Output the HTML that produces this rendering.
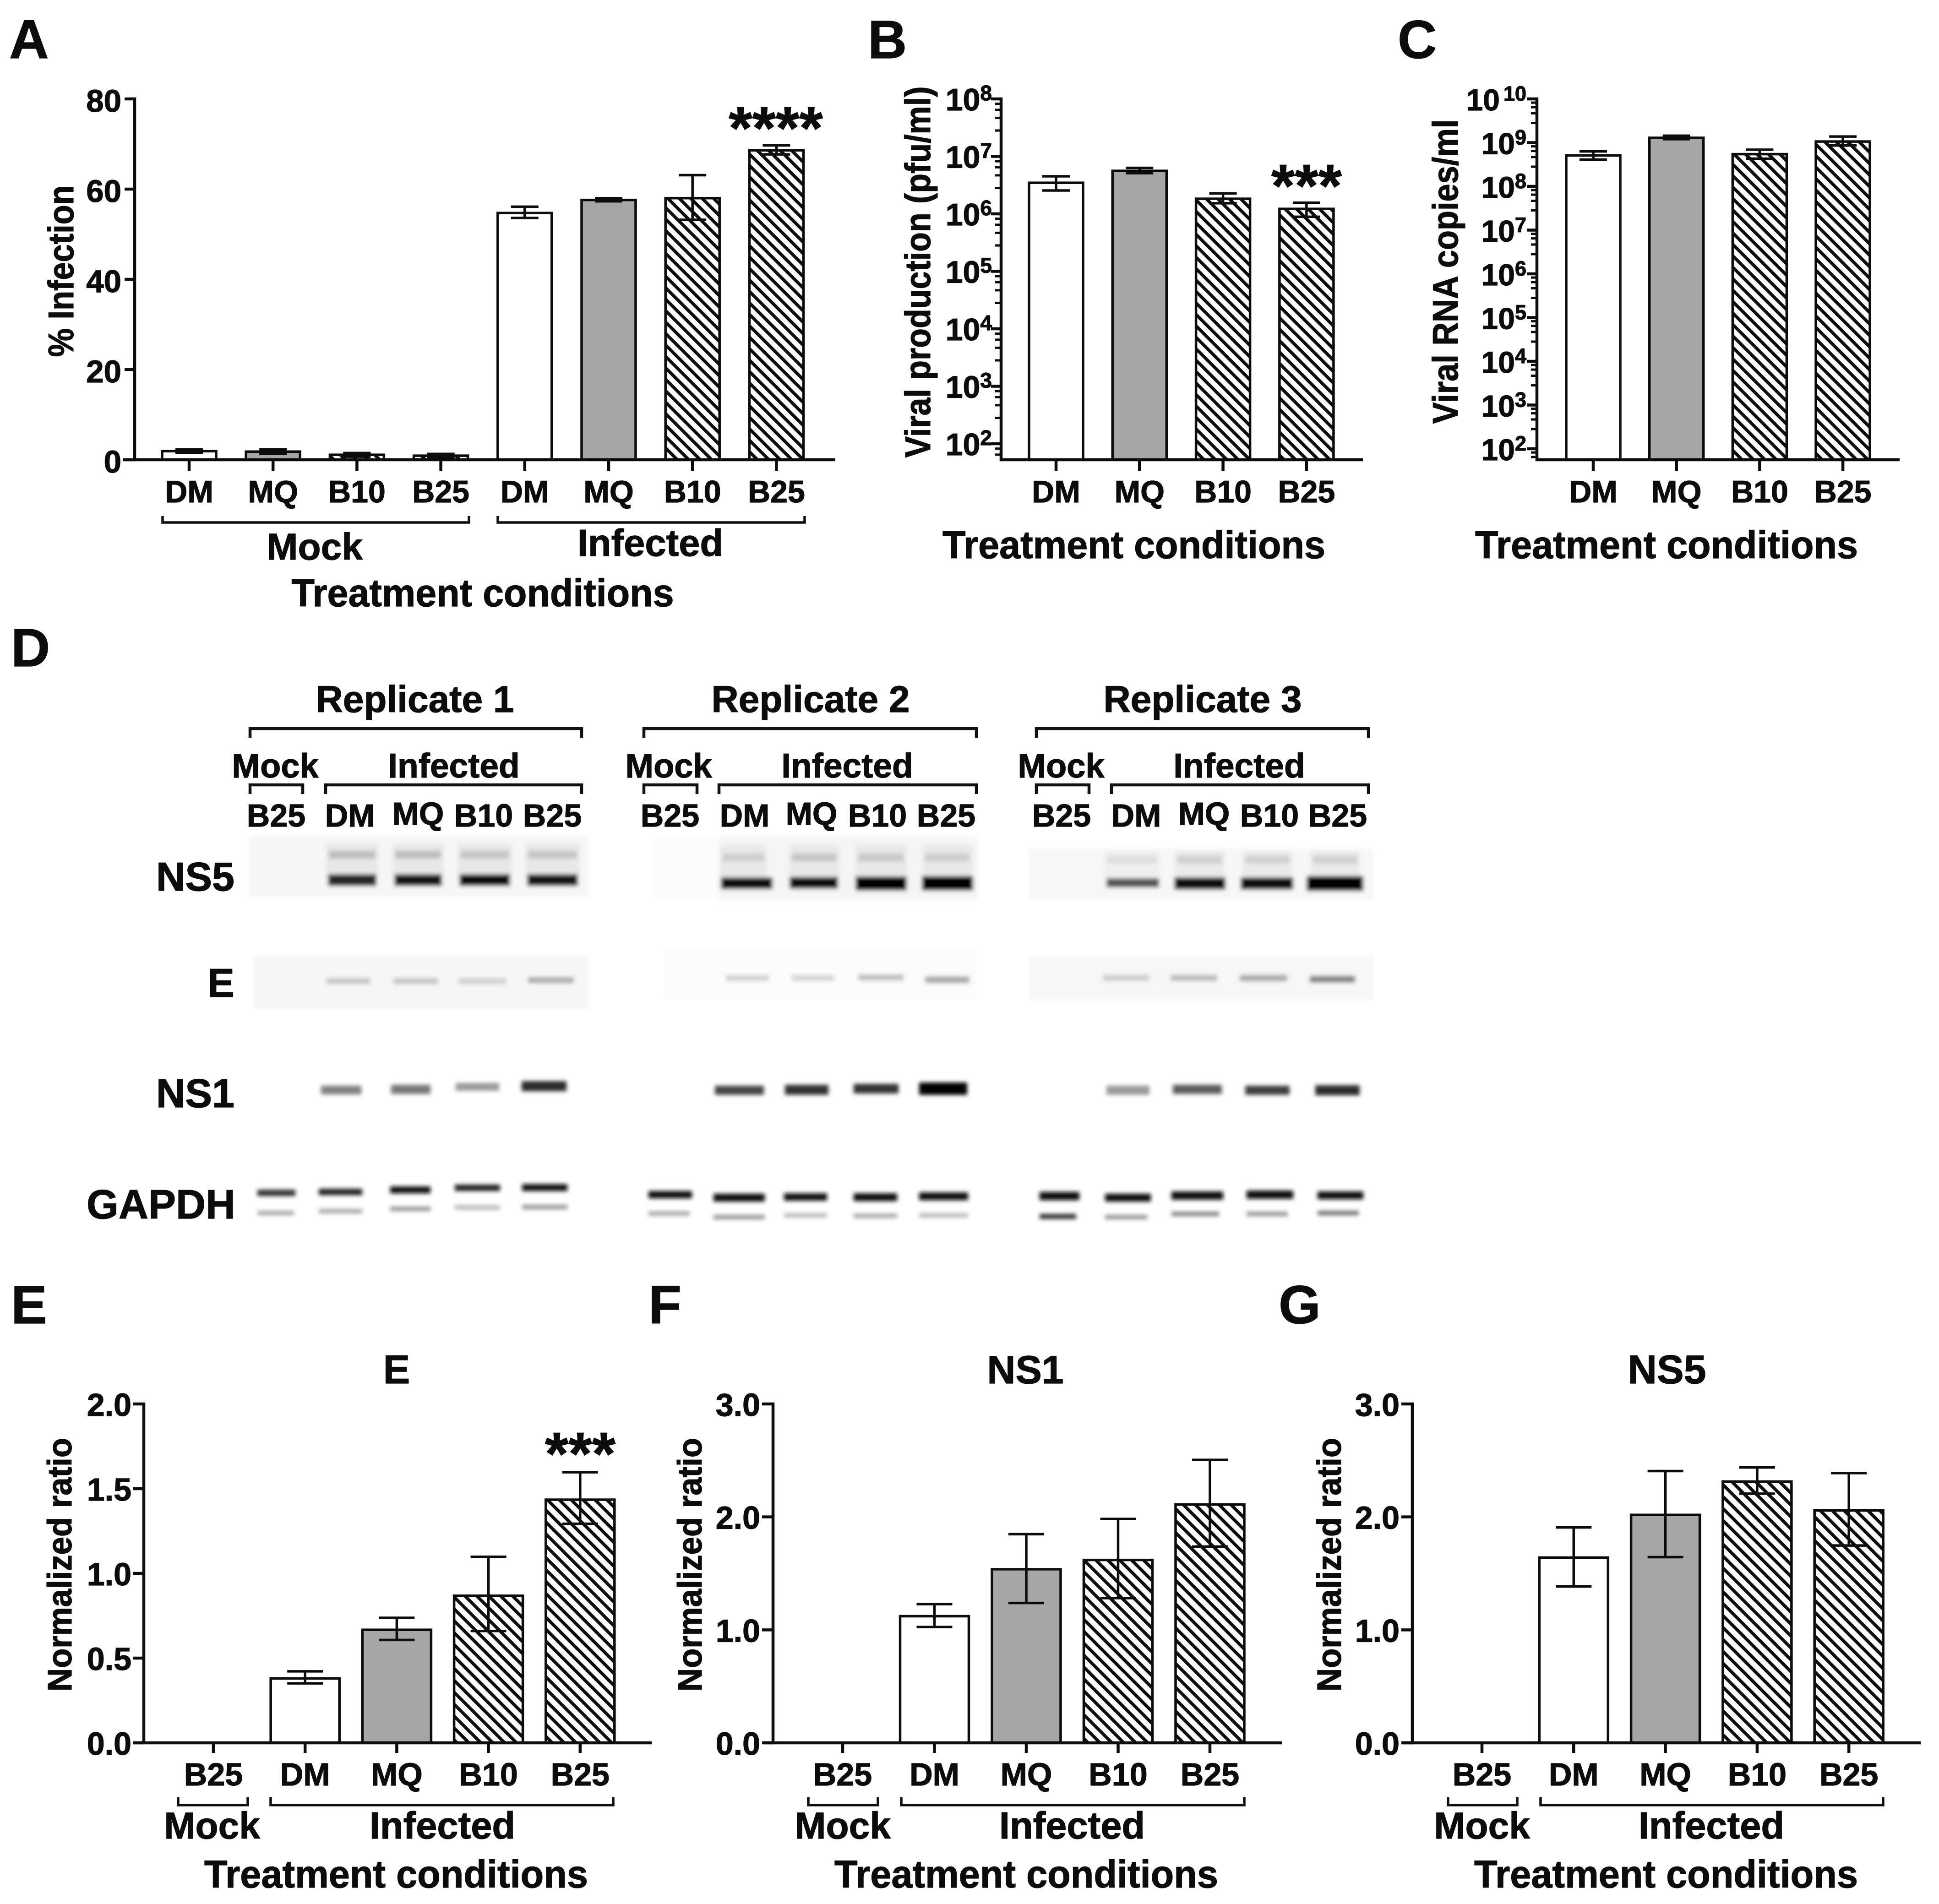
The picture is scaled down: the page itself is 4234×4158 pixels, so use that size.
<!DOCTYPE html>
<html lang="en">
<head>
<meta charset="utf-8">
<title>Viral infection panels A-G</title>
<style>
html,body{margin:0;padding:0;background:#fff;}
svg{display:block;}
text{font-family:"Liberation Sans",Arial,sans-serif;font-weight:700;fill:#0c0c0c;stroke:#0c0c0c;stroke-width:1.2px;}
</style>
</head>
<body>
<svg id="figure" xmlns="http://www.w3.org/2000/svg" width="4234" height="4158" viewBox="0 0 4234 4158">
<defs>
<pattern id="hatchTop" patternUnits="userSpaceOnUse" width="25" height="25"><path d="M0,0L25,25M-12.5,12.5L12.5,37.5M12.5,-12.5L37.5,12.5" stroke="#0c0c0c" stroke-width="7" fill="none"/></pattern>
<pattern id="hatchBottom" patternUnits="userSpaceOnUse" width="26" height="26"><path d="M0,0L26,26M-13,13L13,39M13,-13L39,13" stroke="#0c0c0c" stroke-width="7" fill="none"/></pattern>
<filter id="blotBlur" filterUnits="userSpaceOnUse" x="400" y="1780" width="2800" height="980"><feGaussianBlur stdDeviation="4.5"/></filter>
</defs>
<rect x="0" y="0" width="4234" height="4158" fill="#fff"/>

<!-- panel letters -->
<text x="20" y="127" font-size="120">A</text>
<text x="1895" y="127" font-size="118">B</text>
<text x="3052" y="127" font-size="118">C</text>
<text x="24" y="1455" font-size="118">D</text>
<text x="24" y="2890" font-size="118">E</text>
<text x="1416" y="2890" font-size="118">F</text>
<text x="2792" y="2890" font-size="118">G</text>

<!-- top row titles -->
<text transform="translate(160,592) rotate(-90)" text-anchor="middle" font-size="78" textLength="375" lengthAdjust="spacingAndGlyphs">% Infection</text>
<text transform="translate(2031,594) rotate(-90)" text-anchor="middle" font-size="78" textLength="811" lengthAdjust="spacingAndGlyphs">Viral production (pfu/ml)</text>
<text transform="translate(3183,593) rotate(-90)" text-anchor="middle" font-size="78" textLength="665" lengthAdjust="spacingAndGlyphs">Viral RNA copies/ml</text>
<text x="1054" y="1324" text-anchor="middle" font-size="84" textLength="835" lengthAdjust="spacingAndGlyphs">Treatment conditions</text>
<text x="2476" y="1219" text-anchor="middle" font-size="84" textLength="836" lengthAdjust="spacingAndGlyphs">Treatment conditions</text>
<text x="3639" y="1219" text-anchor="middle" font-size="84" textLength="836" lengthAdjust="spacingAndGlyphs">Treatment conditions</text>
<text x="1694" y="325" text-anchor="middle" font-size="132">****</text>
<text x="2853" y="451" text-anchor="middle" font-size="132">***</text>

<!-- panel A group brackets -->
<path d="M355,1127V1141H1024V1127" fill="none" stroke="#111" stroke-width="5.5"/>
<path d="M1087,1127V1141H1757V1127" fill="none" stroke="#111" stroke-width="5.5"/>
<text x="687" y="1222" text-anchor="middle" font-size="82">Mock</text>
<text x="1420" y="1214" text-anchor="middle" font-size="83">Infected</text>

<!-- panel D labels -->
<g>
<text x="906" y="1555" text-anchor="middle" font-size="82">Replicate 1</text>
<text x="1770" y="1555" text-anchor="middle" font-size="82">Replicate 2</text>
<text x="2626" y="1555" text-anchor="middle" font-size="82">Replicate 3</text>
<path d="M546,1611V1591H1270V1611" fill="none" stroke="#111" stroke-width="6.5"/>
<path d="M1406,1611V1591H2132V1611" fill="none" stroke="#111" stroke-width="6.5"/>
<path d="M2263,1611V1591H2988V1611" fill="none" stroke="#111" stroke-width="6.5"/>
<text x="601" y="1698" text-anchor="middle" font-size="74">Mock</text>
<text x="991" y="1698" text-anchor="middle" font-size="75">Infected</text>
<text x="1460" y="1698" text-anchor="middle" font-size="74">Mock</text>
<text x="1850" y="1698" text-anchor="middle" font-size="75">Infected</text>
<text x="2317" y="1698" text-anchor="middle" font-size="74">Mock</text>
<text x="2706" y="1698" text-anchor="middle" font-size="75">Infected</text>
<path d="M546,1734V1714H661V1734" fill="none" stroke="#111" stroke-width="6.5"/>
<path d="M711,1734V1714H1270V1734" fill="none" stroke="#111" stroke-width="6.5"/>
<path d="M1406,1734V1714H1522V1734" fill="none" stroke="#111" stroke-width="6.5"/>
<path d="M1570,1734V1714H2132V1734" fill="none" stroke="#111" stroke-width="6.5"/>
<path d="M2263,1734V1714H2378V1734" fill="none" stroke="#111" stroke-width="6.5"/>
<path d="M2427,1734V1714H2988V1734" fill="none" stroke="#111" stroke-width="6.5"/>
<text x="603" y="1805" text-anchor="middle" font-size="70">B25</text>
<text x="764" y="1805" text-anchor="middle" font-size="70">DM</text>
<text x="913" y="1801" text-anchor="middle" font-size="70">MQ</text>
<text x="1056" y="1805" text-anchor="middle" font-size="70">B10</text>
<text x="1206" y="1805" text-anchor="middle" font-size="70">B25</text>
<text x="1463" y="1805" text-anchor="middle" font-size="70">B25</text>
<text x="1626" y="1805" text-anchor="middle" font-size="70">DM</text>
<text x="1772" y="1801" text-anchor="middle" font-size="70">MQ</text>
<text x="1916" y="1805" text-anchor="middle" font-size="70">B10</text>
<text x="2066" y="1805" text-anchor="middle" font-size="70">B25</text>
<text x="2318" y="1805" text-anchor="middle" font-size="70">B25</text>
<text x="2481" y="1805" text-anchor="middle" font-size="70">DM</text>
<text x="2629" y="1801" text-anchor="middle" font-size="70">MQ</text>
<text x="2772" y="1805" text-anchor="middle" font-size="70">B10</text>
<text x="2921" y="1805" text-anchor="middle" font-size="70">B25</text>
<text x="512" y="1945" text-anchor="end" font-size="88">NS5</text>
<text x="512" y="2177" text-anchor="end" font-size="88">E</text>
<text x="512" y="2418" text-anchor="end" font-size="88">NS1</text>
<text x="514" y="2661" text-anchor="end" font-size="90">GAPDH</text>
</g>

<!-- western blot surrogate -->
<g filter="url(#blotBlur)">
<rect x="543" y="1825" width="744" height="134" fill="#f6f6f6"/>
<rect x="553" y="2087" width="734" height="116" fill="#f6f6f6"/>
<rect x="1425" y="1828" width="144" height="136" fill="#fcfcfc"/>
<rect x="1569" y="1828" width="566" height="136" fill="#f5f5f5"/>
<rect x="1450" y="2069" width="685" height="111" fill="#fcfcfc"/>
<rect x="2248" y="1853" width="752" height="111" fill="#f7f7f7"/>
<rect x="2248" y="2087" width="752" height="98" fill="#f7f7f7"/>
<rect x="712" y="1842" width="114" height="70" fill="#e8e8e8"/>
<rect x="857" y="1842" width="112" height="70" fill="#e8e8e8"/>
<rect x="999" y="1842" width="119" height="70" fill="#e8e8e8"/>
<rect x="1147" y="1842" width="119" height="70" fill="#e8e8e8"/>
<rect x="1572" y="1846" width="102" height="70" fill="#e8e8e8"/>
<rect x="1723" y="1846" width="110" height="70" fill="#e8e8e8"/>
<rect x="1868" y="1846" width="111" height="70" fill="#e8e8e8"/>
<rect x="2014" y="1846" width="109" height="70" fill="#e8e8e8"/>
<rect x="2412" y="1858" width="120" height="60" fill="#efefef"/>
<rect x="2565" y="1858" width="109" height="60" fill="#eaeaea"/>
<rect x="2713" y="1858" width="109" height="60" fill="#eaeaea"/>
<rect x="2861" y="1858" width="109" height="60" fill="#eaeaea"/>
<rect x="718" y="1858" width="102" height="17" fill="#bdbdbd"/>
<rect x="863" y="1858" width="100" height="17" fill="#bdbdbd"/>
<rect x="1005" y="1858" width="107" height="17" fill="#c4c4c4"/>
<rect x="1153" y="1858" width="107" height="17" fill="#c4c4c4"/>
<rect x="716" y="1909" width="106" height="26" fill="#262626"/>
<rect x="861" y="1909" width="104" height="26" fill="#161616"/>
<rect x="1003" y="1909" width="111" height="26" fill="#111"/>
<rect x="1151" y="1909" width="111" height="26" fill="#141414"/>
<rect x="713" y="2136" width="95" height="13" fill="#c4c4c4"/>
<rect x="859" y="2136" width="97" height="13" fill="#c4c4c4"/>
<rect x="1000" y="2136" width="105" height="13" fill="#d0d0d0"/>
<rect x="1153" y="2134" width="100" height="13" fill="#a8a8a8"/>
<rect x="701" y="2371" width="88" height="19" fill="#808080"/>
<rect x="854" y="2369" width="86" height="20" fill="#777"/>
<rect x="995" y="2365" width="95" height="17" fill="#999"/>
<rect x="1139" y="2361" width="98" height="22" fill="#2a2a2a"/>
<rect x="562" y="2598" width="83" height="14" fill="#333"/>
<rect x="696" y="2596" width="95" height="14" fill="#222"/>
<rect x="852" y="2591" width="88" height="15" fill="#111"/>
<rect x="993" y="2587" width="99" height="14" fill="#222"/>
<rect x="1140" y="2586" width="99" height="15" fill="#0c0c0c"/>
<rect x="562" y="2644" width="80" height="10" fill="#aaa"/>
<rect x="696" y="2640" width="95" height="10" fill="#aaa"/>
<rect x="852" y="2635" width="88" height="10" fill="#999"/>
<rect x="993" y="2632" width="99" height="10" fill="#bbb"/>
<rect x="1140" y="2631" width="99" height="10" fill="#999"/>
<rect x="1578" y="1864" width="90" height="17" fill="#cecece"/>
<rect x="1729" y="1864" width="98" height="17" fill="#c4c4c4"/>
<rect x="1874" y="1864" width="99" height="17" fill="#c8c8c8"/>
<rect x="2020" y="1864" width="97" height="17" fill="#cccccc"/>
<rect x="1574" y="1916" width="113" height="26" fill="#0c0c0c"/>
<rect x="1724" y="1915" width="106" height="26" fill="#0c0c0c"/>
<rect x="1868" y="1914" width="112" height="31" fill="#000"/>
<rect x="2013" y="1913" width="112" height="32" fill="#000"/>
<rect x="1585" y="2129" width="94" height="13" fill="#d0d0d0"/>
<rect x="1729" y="2129" width="93" height="13" fill="#d4d4d4"/>
<rect x="1874" y="2128" width="99" height="13" fill="#bcbcbc"/>
<rect x="2020" y="2132" width="97" height="15" fill="#a8a8a8"/>
<rect x="1561" y="2371" width="107" height="20" fill="#444"/>
<rect x="1714" y="2369" width="95" height="22" fill="#333"/>
<rect x="1864" y="2367" width="98" height="21" fill="#333"/>
<rect x="2007" y="2364" width="105" height="27" fill="#000"/>
<rect x="1416" y="2601" width="95" height="16" fill="#111"/>
<rect x="1558" y="2607" width="112" height="17" fill="#0c0c0c"/>
<rect x="1712" y="2606" width="94" height="16" fill="#111"/>
<rect x="1864" y="2606" width="95" height="17" fill="#0c0c0c"/>
<rect x="2007" y="2604" width="107" height="17" fill="#0c0c0c"/>
<rect x="1416" y="2645" width="90" height="10" fill="#aaa"/>
<rect x="1558" y="2653" width="112" height="10" fill="#999"/>
<rect x="1712" y="2649" width="94" height="10" fill="#bbb"/>
<rect x="1864" y="2650" width="95" height="10" fill="#aaa"/>
<rect x="2007" y="2649" width="107" height="10" fill="#bbb"/>
<rect x="2418" y="1869" width="108" height="17" fill="#dfdfdf"/>
<rect x="2571" y="1869" width="97" height="17" fill="#d0d0d0"/>
<rect x="2719" y="1869" width="97" height="17" fill="#d0d0d0"/>
<rect x="2867" y="1869" width="97" height="17" fill="#d0d0d0"/>
<rect x="2416" y="1918" width="115" height="20" fill="#555"/>
<rect x="2564" y="1916" width="112" height="27" fill="#0c0c0c"/>
<rect x="2709" y="1916" width="115" height="27" fill="#0c0c0c"/>
<rect x="2853" y="1913" width="124" height="33" fill="#000"/>
<rect x="2408" y="2129" width="102" height="13" fill="#ccc"/>
<rect x="2556" y="2129" width="102" height="13" fill="#b8b8b8"/>
<rect x="2707" y="2129" width="104" height="14" fill="#a8a8a8"/>
<rect x="2860" y="2131" width="99" height="15" fill="#808080"/>
<rect x="2416" y="2371" width="94" height="20" fill="#999"/>
<rect x="2561" y="2369" width="107" height="20" fill="#5c5c5c"/>
<rect x="2719" y="2371" width="97" height="20" fill="#3c3c3c"/>
<rect x="2872" y="2370" width="97" height="22" fill="#2a2a2a"/>
<rect x="2270" y="2603" width="87" height="18" fill="#0c0c0c"/>
<rect x="2413" y="2607" width="100" height="17" fill="#111"/>
<rect x="2558" y="2602" width="113" height="18" fill="#0c0c0c"/>
<rect x="2722" y="2600" width="102" height="18" fill="#0c0c0c"/>
<rect x="2877" y="2602" width="100" height="17" fill="#0c0c0c"/>
<rect x="2270" y="2651" width="80" height="11" fill="#333"/>
<rect x="2413" y="2653" width="92" height="10" fill="#999"/>
<rect x="2558" y="2646" width="104" height="10" fill="#888"/>
<rect x="2722" y="2646" width="90" height="10" fill="#999"/>
<rect x="2877" y="2644" width="90" height="10" fill="#777"/>
</g>

<!-- bottom row titles, brackets, groups -->
<text x="866" y="3021" text-anchor="middle" font-size="88">E</text>
<text x="2239" y="3021" text-anchor="middle" font-size="86">NS1</text>
<text x="3640" y="3021" text-anchor="middle" font-size="88">NS5</text>
<text transform="translate(156,3417) rotate(-90)" text-anchor="middle" font-size="74" textLength="554" lengthAdjust="spacingAndGlyphs">Normalized ratio</text>
<text transform="translate(1532,3417) rotate(-90)" text-anchor="middle" font-size="74" textLength="554" lengthAdjust="spacingAndGlyphs">Normalized ratio</text>
<text transform="translate(2928,3417) rotate(-90)" text-anchor="middle" font-size="74" textLength="554" lengthAdjust="spacingAndGlyphs">Normalized ratio</text>
<text x="1267" y="3220" text-anchor="middle" font-size="132">***</text>
<path d="M389,3925V3942H541V3925" fill="none" stroke="#111" stroke-width="5.5"/>
<path d="M591,3925V3942H1339V3925" fill="none" stroke="#111" stroke-width="5.5"/>
<path d="M1765,3925V3942H1917V3925" fill="none" stroke="#111" stroke-width="5.5"/>
<path d="M1968,3925V3942H2717V3925" fill="none" stroke="#111" stroke-width="5.5"/>
<path d="M3162,3925V3942H3313V3925" fill="none" stroke="#111" stroke-width="5.5"/>
<path d="M3364,3925V3942H4112V3925" fill="none" stroke="#111" stroke-width="5.5"/>
<text x="463" y="4015" text-anchor="middle" font-size="82">Mock</text>
<text x="966" y="4015" text-anchor="middle" font-size="83">Infected</text>
<text x="1840" y="4015" text-anchor="middle" font-size="82">Mock</text>
<text x="2341" y="4015" text-anchor="middle" font-size="83">Infected</text>
<text x="3236" y="4015" text-anchor="middle" font-size="82">Mock</text>
<text x="3737" y="4015" text-anchor="middle" font-size="83">Infected</text>
<text x="865" y="4122" text-anchor="middle" font-size="84" textLength="838" lengthAdjust="spacingAndGlyphs">Treatment conditions</text>
<text x="2241" y="4122" text-anchor="middle" font-size="84" textLength="838" lengthAdjust="spacingAndGlyphs">Treatment conditions</text>
<text x="3638" y="4122" text-anchor="middle" font-size="84" textLength="838" lengthAdjust="spacingAndGlyphs">Treatment conditions</text>

<g id="charts"></g>
</svg>

<script>
// ---- Panel A: % infection ----
const aCategories = ['DM','MQ','B10','B25','DM','MQ','B10','B25'];
const aStyles = ['open','gray','hatch','hatch','open','gray','hatch','hatch'];
const aValues = [1.9,1.8,1.1,0.9,54.7,57.6,58.0,68.6];
const aErrHigh = [2.3,2.3,1.5,1.3,56.1,58.0,63.1,69.7];
const aErrLow = [1.5,1.3,0.7,0.5,53.6,57.3,53.2,67.7];
const aTicks = [0,20,40,60,80];
const aTickLabels = ['0','20','40','60','80'];

// ---- Panel B: viral production (pfu/ml) ----
const bCategories = ['DM','MQ','B10','B25'];
const bStyles = ['open','gray','hatch','hatch'];
const bValues = [3.47e6,5.6e6,1.83e6,1.22e6];
const bErrHigh = [4.5e6,6.3e6,2.27e6,1.56e6];
const bErrLow = [2.55e6,5.1e6,1.53e6,8.9e5];
const bDecades = [2,3,4,5,6,7,8];

// ---- Panel C: viral RNA copies/ml ----
const cCategories = ['DM','MQ','B10','B25'];
const cStyles = ['open','gray','hatch','hatch'];
const cValues = [5.1e8,1.29e9,5.46e8,1.06e9];
const cErrHigh = [6.3e8,1.44e9,6.9e8,1.38e9];
const cErrLow = [4.1e8,1.2e9,4.3e8,8.6e8];
const cDecades = [2,3,4,5,6,7,8,9,10];

// ---- Panel E: E protein normalized ratio ----
const eCategories = ['B25','DM','MQ','B10','B25'];
const eStyles = ['none','open','gray','hatch','hatch'];
const eValues = [0,0.38,0.667,0.868,1.435];
const eErrHigh = [0,0.422,0.738,1.098,1.597];
const eErrLow = [0,0.351,0.607,0.66,1.293];
const eTicks = [0,0.5,1,1.5,2];
const eTickLabels = ['0.0','0.5','1.0','1.5','2.0'];

// ---- Panel F: NS1 normalized ratio ----
const fCategories = ['B25','DM','MQ','B10','B25'];
const fStyles = ['none','open','gray','hatch','hatch'];
const fValues = [0,1.121,1.537,1.619,2.11];
const fErrHigh = [0,1.228,1.847,1.982,2.505];
const fErrLow = [0,1.025,1.238,1.281,1.737];
const fTicks = [0,1,2,3];
const fTickLabels = ['0.0','1.0','2.0','3.0'];

// ---- Panel G: NS5 normalized ratio ----
const gCategories = ['B25','DM','MQ','B10','B25'];
const gStyles = ['none','open','gray','hatch','hatch'];
const gValues = [0,1.64,2.018,2.313,2.057];
const gErrHigh = [0,1.907,2.406,2.438,2.388];
const gErrLow = [0,1.384,1.644,2.206,1.747];
const gTicks = [0,1,2,3];
const gTickLabels = ['0.0','1.0','2.0','3.0'];

const SVGNS = 'http://www.w3.org/2000/svg';
const INK = '#0c0c0c';
const root = document.getElementById('charts');

function mk(tag, parent, attrs, content) {
  const el = document.createElementNS(SVGNS, tag);
  for (const k in attrs) el.setAttribute(k, attrs[k]);
  if (content !== undefined) el.textContent = content;
  parent.appendChild(el);
  return el;
}

function linearScale(d0, d1, r0, r1) {
  return v => r0 + (v - d0) / (d1 - d0) * (r1 - r0);
}
function logScale(e0, e1, r0, r1) {
  return v => r0 + (Math.log10(v) - e0) / (e1 - e0) * (r1 - r0);
}

function drawBars(p, g, cats, styles, vals, hi, lo, x, y, o) {
  cats.forEach((_, i) => {
    if (styles[i] === 'none') return;
    const top = y(vals[i]);
    const fill = styles[i] === 'open' ? '#fff' : styles[i] === 'gray' ? '#a6a6a9' : o.hatch;
    const bar = mk('rect', g, {x: x(i) - o.barW / 2, y: top, width: o.barW, height: Math.max(0, o.y0 - top), fill: fill, stroke: INK, 'stroke-width': o.barStroke});
    
    
  });
  cats.forEach((_, i) => {
    if (styles[i] === 'none') return;
    const cx = x(i), yh = y(hi[i]), yl = y(lo[i]);
    const stem = mk('line', g, {x1: cx, x2: cx, y1: yh, y2: yl, stroke: INK, 'stroke-width': o.errStroke});
    
    
    const capTop = mk('line', g, {x1: cx - o.capW / 2, x2: cx + o.capW / 2, y1: yh, y2: yh, stroke: INK, 'stroke-width': o.errStroke});
    
    
    const capLow = mk('line', g, {x1: cx - o.capW / 2, x2: cx + o.capW / 2, y1: yl, y2: yl, stroke: INK, 'stroke-width': o.errStroke});
    
    
  });
}

function drawXAxis(p, g, cats, x, o) {
  const axis = mk('line', g, {x1: o.xAxisStart, x2: o.xAxisEnd, y1: o.y0, y2: o.y0, stroke: INK, 'stroke-width': o.axisStroke});
  
  
  cats.forEach((c, i) => {
    const tick = mk('line', g, {x1: x(i), x2: x(i), y1: o.y0, y2: o.y0 + o.xTickLen, stroke: INK, 'stroke-width': o.axisStroke});
    
    
    const lab = mk('text', g, {x: x(i), y: o.xLabelY, 'text-anchor': 'middle', 'font-size': o.xLabelSize}, c);
    
    
  });
}

function drawYAxisLine(p, g, o) {
  const axis = mk('line', g, {x1: o.axisX, x2: o.axisX, y1: o.yTop - o.axisStroke / 2, y2: o.y0 + o.axisStroke / 2, stroke: INK, 'stroke-width': o.axisStroke});
  
  
}

function drawLinearY(p, g, ticks, labels, y, o) {
  drawYAxisLine(p, g, o);
  ticks.forEach((v, i) => {
    const tick = mk('line', g, {x1: o.axisX - o.yTickLen, x2: o.axisX, y1: y(v), y2: y(v), stroke: INK, 'stroke-width': o.axisStroke});
    
    
    const lab = mk('text', g, {x: o.yLabelRight, y: y(v) + o.yLabelDy, 'text-anchor': 'end', 'font-size': o.yLabelSize}, labels[i]);
    
    
  });
}

// Minor ticks fall at these fixed fractions of a decade below each major tick.
const minorFractions = [0.085, 0.19, 0.33, 0.55];

function drawLogY(p, g, decades, y, o) {
  drawYAxisLine(p, g, o);
  decades.forEach((e, i) => {
    const yy = y(Math.pow(10, e));
    const tick = mk('line', g, {x1: o.axisX - o.yTickLen, x2: o.axisX, y1: yy, y2: yy, stroke: INK, 'stroke-width': o.axisStroke});
    
    
    const lab = mk('text', g, {x: o.yLabelRight, y: yy + o.yLabelDy, 'text-anchor': 'end', 'font-size': o.yLabelSize});
    
    
    mk('tspan', lab, {}, '10');
    mk('tspan', lab, {dy: -o.supRise, 'font-size': o.supSize, dx: e >= 10 ? 8 : 0}, String(e));
    minorFractions.forEach((f, m) => {
      const ym = y(Math.pow(10, e - f));
      if (ym >= o.y0 - 3) return;
      const minor = mk('line', g, {x1: o.axisX - o.minorLen, x2: o.axisX, y1: ym, y2: ym, stroke: INK, 'stroke-width': 5});
      
      
    });
  });
}

function panelGroup(p) {
  const g = mk('g', root, {});
  
  
  return g;
}

const topStyle = {hatch: 'url(#hatchTop)', barStroke: 5.5, errStroke: 5.5, axisStroke: 6.5, xTickLen: 24, xLabelY: 1097, xLabelSize: 68, yLabelDy: 28, yLabelSize: 69, yTickLen: 22, y0: 1004, yTop: 216};
const bottomStyle = {hatch: 'url(#hatchBottom)', barW: 150, barStroke: 5.5, errStroke: 5.5, capW: 78, axisStroke: 6.5, xTickLen: 22, xLabelY: 3899, xLabelSize: 70, yLabelDy: 26, yLabelSize: 70, yTickLen: 24, y0: 3806, yTop: 3066};

// Panel A
(function () {
  const o = Object.assign({}, topStyle, {axisX: 294, xAxisStart: 269, xAxisEnd: 1824, barW: 118, capW: 60, yLabelRight: 265});
  const g = panelGroup('a');
  const x = i => 413 + i * 183.2;
  const y = linearScale(0, 80, o.y0, o.yTop);
  drawBars('a', g, aCategories, aStyles, aValues, aErrHigh, aErrLow, x, y, o);
  drawXAxis('a', g, aCategories, x, o);
  drawLinearY('a', g, aTicks, aTickLabels, y, o);
})();

// Panel B
(function () {
  const o = Object.assign({}, topStyle, {axisX: 2186, xAxisStart: 2186, xAxisEnd: 2976, barW: 118, capW: 60, yLabelRight: 2166, yLabelDy: 25, yLabelSize: 68, supSize: 46, supRise: 22, minorLen: 13});
  const g = panelGroup('b');
  const x = i => 2306 + i * 182.3;
  const y = logScale(2, 8, 969, o.yTop);
  drawBars('b', g, bCategories, bStyles, bValues, bErrHigh, bErrLow, x, y, o);
  drawXAxis('b', g, bCategories, x, o);
  drawLogY('b', g, bDecades, y, o);
})();

// Panel C
(function () {
  const o = Object.assign({}, topStyle, {axisX: 3356, xAxisStart: 3356, xAxisEnd: 4148, barW: 118, capW: 60, yLabelRight: 3333, yLabelDy: 25, yLabelSize: 66, supSize: 45, supRise: 21, minorLen: 13});
  const g = panelGroup('c');
  const x = i => 3479 + i * 181.7;
  const y = logScale(2, 10, 980, o.yTop);
  drawBars('c', g, cCategories, cStyles, cValues, cErrHigh, cErrLow, x, y, o);
  drawXAxis('c', g, cCategories, x, o);
  drawLogY('c', g, cDecades, y, o);
})();

// Panel E
(function () {
  const o = Object.assign({}, bottomStyle, {axisX: 314, xAxisStart: 290, xAxisEnd: 1423, yLabelRight: 287});
  const g = panelGroup('e');
  const x = i => 466 + i * 200.2;
  const y = linearScale(0, 2, o.y0, o.yTop);
  drawBars('e', g, eCategories, eStyles, eValues, eErrHigh, eErrLow, x, y, o);
  drawXAxis('e', g, eCategories, x, o);
  drawLinearY('e', g, eTicks, eTickLabels, y, o);
})();

// Panel F
(function () {
  const o = Object.assign({}, bottomStyle, {axisX: 1688, xAxisStart: 1666, xAxisEnd: 2799, yLabelRight: 1660});
  const g = panelGroup('f');
  const x = i => 1840 + i * 200.5;
  const y = linearScale(0, 3, o.y0, o.yTop);
  drawBars('f', g, fCategories, fStyles, fValues, fErrHigh, fErrLow, x, y, o);
  drawXAxis('f', g, fCategories, x, o);
  drawLinearY('f', g, fTicks, fTickLabels, y, o);
})();

// Panel G
(function () {
  const o = Object.assign({}, bottomStyle, {axisX: 3084, xAxisStart: 3063, xAxisEnd: 4194, yLabelRight: 3056});
  const g = panelGroup('g');
  const x = i => 3236 + i * 200.3;
  const y = linearScale(0, 3, o.y0, o.yTop);
  drawBars('g', g, gCategories, gStyles, gValues, gErrHigh, gErrLow, x, y, o);
  drawXAxis('g', g, gCategories, x, o);
  drawLinearY('g', g, gTicks, gTickLabels, y, o);
})();
</script>
</body>
</html>
